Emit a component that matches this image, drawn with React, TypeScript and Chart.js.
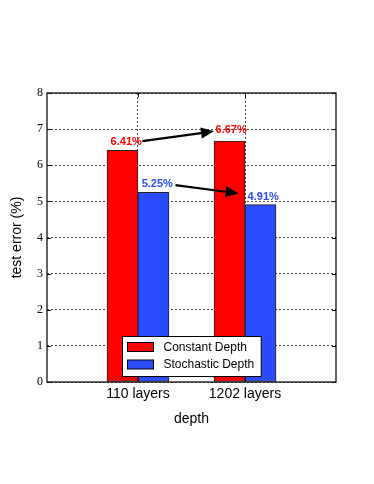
import React, { useEffect, useRef } from "react";
import { Chart, registerables } from "chart.js";

Chart.register(...registerables);

// ---- data ----
const categories = ["110 layers", "1202 layers"];
const categoryPositions = [0, 1];
const constantDepth = [6.41, 6.67];
const stochasticDepth = [5.25, 4.91];
const yTickValues = [0, 1, 2, 3, 4, 5, 6, 7, 8];
const seriesNames = ["Constant Depth", "Stochastic Depth"];
const seriesColors = ["#ff0000", "#2b4bff"];

// value annotations (data coordinates)
const labelTexts = ["6.41%", "6.67%", "5.25%", "4.91%"];
const labelX = [-0.11, 0.87, 0.18, 1.17];
const labelY = [6.65, 6.97, 5.48, 5.13];
const labelColorIdx = [0, 0, 1, 1];
const arrowFromX = [0.04, 0.35];
const arrowFromY = [6.67, 5.45];
const arrowToX = [0.71, 0.94];
const arrowToY = [6.94, 5.22];

const SANS = "'Liberation Sans', Arial, Helvetica, sans-serif";
const SERIF = "'Liberation Serif', 'Times New Roman', serif";

const boxPlugin = {
  id: "boxPlugin",
  afterDraw(chart: any) {
    const { ctx, chartArea: a, scales } = chart;
    const xs = scales.x;
    const ys = scales.y;
    ctx.save();
    // inward tick marks
    ctx.strokeStyle = "#111";
    ctx.lineWidth = 1;
    const tl = 4;
    yTickValues.forEach((v) => {
      const y = Math.round(ys.getPixelForValue(v)) + 0.5;
      ctx.beginPath();
      ctx.moveTo(a.left, y);
      ctx.lineTo(a.left + tl, y);
      ctx.moveTo(a.right, y);
      ctx.lineTo(a.right - tl, y);
      ctx.stroke();
    });
    categoryPositions.forEach((v) => {
      const x = Math.round(xs.getPixelForValue(v)) + 0.5;
      ctx.beginPath();
      ctx.moveTo(x, a.bottom);
      ctx.lineTo(x, a.bottom - tl);
      ctx.moveTo(x, a.top);
      ctx.lineTo(x, a.top + tl);
      ctx.stroke();
    });
    // annotations
    ctx.font = `bold 11px ${SANS}`;
    ctx.textAlign = "center";
    ctx.textBaseline = "middle";
    labelTexts.forEach((t, i) => {
      ctx.fillStyle = seriesColors[labelColorIdx[i]];
      ctx.fillText(t, xs.getPixelForValue(labelX[i]), ys.getPixelForValue(labelY[i]));
    });
    // arrows
    arrowFromX.forEach((_, i) => {
      const x1 = xs.getPixelForValue(arrowFromX[i]);
      const y1 = ys.getPixelForValue(arrowFromY[i]);
      const x2 = xs.getPixelForValue(arrowToX[i]);
      const y2 = ys.getPixelForValue(arrowToY[i]);
      const ang = Math.atan2(y2 - y1, x2 - x1);
      const hl = 13;
      const hw = 5.5;
      const bx = x2 - hl * Math.cos(ang);
      const by = y2 - hl * Math.sin(ang);
      ctx.strokeStyle = "#000";
      ctx.fillStyle = "#000";
      ctx.lineWidth = 2.2;
      ctx.beginPath();
      ctx.moveTo(x1, y1);
      ctx.lineTo(bx, by);
      ctx.stroke();
      ctx.beginPath();
      ctx.moveTo(x2, y2);
      ctx.lineTo(bx + hw * Math.sin(ang), by - hw * Math.cos(ang));
      ctx.lineTo(bx - hw * Math.sin(ang), by + hw * Math.cos(ang));
      ctx.closePath();
      ctx.fill();
    });
    // plot frame
    ctx.strokeStyle = "#111";
    ctx.lineWidth = 1.3;
    ctx.strokeRect(a.left, a.top, a.right - a.left, a.bottom - a.top);

    // legend
    ctx.font = `12px ${SANS}`;
    const tw = Math.max(...seriesNames.map((n) => ctx.measureText(n).width));
    const patchW = 26;
    const patchH = 9;
    const padL = 5;
    const gap = 10;
    const padR = 7;
    const rowH = 17.5;
    const boxW = padL + patchW + gap + tw + padR;
    const boxH = 40;
    const cx = (a.left + a.right) / 2;
    const bx0 = Math.round(cx - boxW / 2) + 0.5;
    const by0 = Math.round(a.bottom - 6 - boxH) + 0.5;
    ctx.fillStyle = "#fff";
    ctx.fillRect(bx0, by0, boxW, boxH);
    ctx.strokeStyle = "#000";
    ctx.lineWidth = 1;
    ctx.strokeRect(bx0, by0, boxW, boxH);
    seriesNames.forEach((n, i) => {
      const rowC = by0 + 10.5 + i * rowH;
      ctx.fillStyle = seriesColors[i];
      ctx.fillRect(bx0 + padL, rowC - patchH / 2, patchW, patchH);
      ctx.strokeStyle = "#000";
      ctx.strokeRect(bx0 + padL, rowC - patchH / 2, patchW, patchH);
      ctx.fillStyle = "#000";
      ctx.textAlign = "left";
      ctx.textBaseline = "middle";
      ctx.fillText(n, bx0 + padL + patchW + gap, rowC + 0.5);
    });
    ctx.restore();
  },
};

export default function App() {
  const ref = useRef<HTMLCanvasElement | null>(null);
  useEffect(() => {
    document.body.style.margin = "0";
    const canvas = ref.current!;
    const mk = (vals: number[]) => vals.map((v, i) => ({ x: categoryPositions[i], y: v }));
    const chart = new Chart(canvas, {
      type: "bar",
      data: {
        datasets: [
          {
            label: seriesNames[0],
            data: mk(constantDepth),
            backgroundColor: seriesColors[0],
            borderColor: "#222",
            borderWidth: 1,
            borderSkipped: false,
            barThickness: 31,
          },
          {
            label: seriesNames[1],
            data: mk(stochasticDepth),
            backgroundColor: seriesColors[1],
            borderColor: "#222",
            borderWidth: 1,
            borderSkipped: false,
            barThickness: 31,
          },
        ],
      },
      options: {
        responsive: false,
        animation: false,
        layout: { padding: { left: 0, top: 93, right: 38, bottom: 52 } },
        plugins: { legend: { display: false }, tooltip: { enabled: false } },
        scales: {
          x: {
            type: "linear",
            min: -0.85,
            max: 1.85,
            offset: false,
            afterBuildTicks: (s: any) => {
              s.ticks = categoryPositions.map((v) => ({ value: v }));
            },
            afterFit: (s: any) => {
              s.height = 50;
            },
            ticks: {
              autoSkip: false,
              maxRotation: 0,
              padding: 4,
              color: "#000",
              font: { family: SANS, size: 14 },
              callback: (v: any) => {
                const i = categoryPositions.indexOf(Number(v));
                return i >= 0 ? categories[i] : "";
              },
            },
            grid: { offset: false, color: "#444", lineWidth: 1, drawTicks: false },
            border: { display: false, dash: [2, 2] },
            title: {
              display: true,
              text: "depth",
              color: "#000",
              font: { family: SANS, size: 14 },
              padding: { top: 0, bottom: 4 },
            },
          },
          y: {
            min: 0,
            max: 8,
            afterBuildTicks: (s: any) => {
              s.ticks = yTickValues.map((v) => ({ value: v }));
            },
            afterFit: (s: any) => {
              s.width = 47;
            },
            ticks: {
              padding: 4,
              color: "#000",
              font: { family: SERIF, size: 12 },
            },
            grid: { color: "#444", lineWidth: 1, drawTicks: false },
            border: { display: false, dash: [2, 2] },
            title: {
              display: true,
              text: "test error (%)",
              color: "#000",
              font: { family: SANS, size: 14 },
              padding: { top: 9, bottom: 0 },
            },
          },
        },
      },
      plugins: [boxPlugin],
    } as any);
    return () => chart.destroy();
  }, []);
  return (
    <div style={{ position: "absolute", left: 0, top: 0, width: 374, height: 484, background: "#fff" }}>
      <canvas ref={ref} width={374} height={484} style={{ width: 374, height: 484, display: "block" }} />
    </div>
  );
}
